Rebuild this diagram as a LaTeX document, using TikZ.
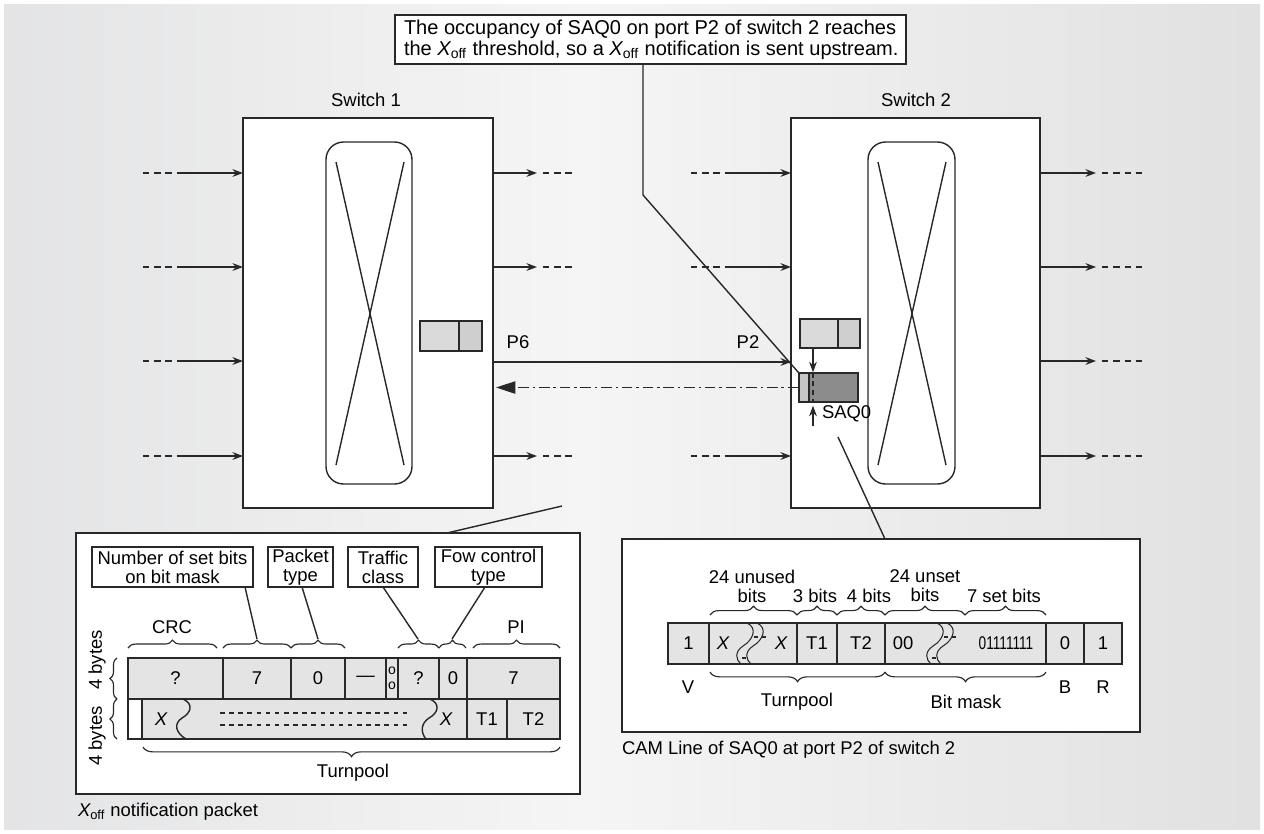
\documentclass[tikz,border=0pt]{standalone}
\usepackage{fontspec}
\setmainfont{Liberation Sans}
\usetikzlibrary{arrows.meta,decorations.pathreplacing,fit,calc}
\definecolor{cellgray}{RGB}{228,228,229}
\definecolor{qlight}{RGB}{218,218,219}
\definecolor{qright}{RGB}{207,207,208}
\definecolor{saqdark}{RGB}{140,140,140}
\definecolor{saqlight}{RGB}{198,198,199}
\definecolor{lnc}{RGB}{40,40,40}
\definecolor{bgl}{RGB}{208,209,212}
\definecolor{bgm}{RGB}{245,245,245}
\definecolor{bgr}{RGB}{206,206,208}
\pgfdeclarehorizontalshading{bgshade}{100bp}{color(0bp)=(bgl); color(48bp)=(bgm); color(100bp)=(bgr)}
\newcommand\cellbox[7]{\node[#1, fit={(#3,#4)(#5,#6)}] (#2) {};\node[lbl] (#2t) at (#2.center) {#7};}
\begin{document}
\begin{tikzpicture}[x=0.02cm,y=-0.02cm, line width=0.8pt, draw=lnc,
  font=\fontsize{10.5}{10.8}\selectfont,
  box/.style={draw=lnc, fill=white, inner sep=0pt, outer sep=0pt},
  cellst/.style={draw=lnc, fill=cellgray, inner sep=0pt, outer sep=0pt},
  wcell/.style={draw=lnc, fill=white, inner sep=0pt, outer sep=0pt},
  lbl/.style={inner sep=0pt, outer sep=0pt, align=center},
  arr/.style={-{Stealth[length=6pt,width=4.4pt]}},
  bigarr/.style={-{Triangle[length=11pt,width=7pt]}},
  dsh/.style={dash pattern=on 3.6pt off 2.8pt},
  brc/.style={decorate, decoration={brace, amplitude=#1}, line width=0.65pt},
]
% background
\fill[white] (0,0) rectangle (1264,833);
\shade[shading=bgshade] (4,4) rectangle (1260,829);
\useasboundingbox (0,0) rectangle (1264,833);

% ---------- note ----------
\node[box, fit={(395,15)(906,64)}] (note) {};
\node[lbl, anchor=west, align=left, font=\fontsize{11.4}{10.6}\selectfont] (notet) at (404,40)
  {The occupancy of SAQ0 on port P2 of switch 2 reaches\\
   the {\itshape X}\textsubscript{off} threshold, so a {\itshape X}\textsubscript{off} notification is sent upstream.};

% ---------- switches ----------
\node[box, fit={(243,118)(493,508)}] (sw1) {};
\node[box, fit={(791,118)(1040,508)}] (sw2) {};
\node[lbl] (sw1l) at (366,100) {Switch 1};
\node[lbl] (sw2l) at (916,100) {Switch 2};
\node[draw=lnc, rounded corners=10pt, fit={(326,142)(412,484)}, inner sep=0pt] (xb1) {};
\node[draw=lnc, rounded corners=10pt, fit={(868,142)(955,484)}, inner sep=0pt] (xb2) {};
\draw (336,162) -- (404,465);
\draw (404,162) -- (336,465);
\draw (878,162) -- (946,465);
\draw (946,162) -- (878,465);

% inputs/outputs
\foreach \y/\n in {173/a,267/b,361/c,456/d}{
  \coordinate (i1\n) at (183,\y);
  \draw[dsh] (143,\y) -- (i1\n);
  \draw[arr] (i1\n) -- (i1\n -| sw1.west);
  \coordinate (o2\n) at (1096,\y);
  \draw[arr] (o2\n -| sw2.east) -- (o2\n);
  \draw[dsh] (1102,\y) -- (1142,\y);
}
\foreach \y/\n in {173/a,267/b,456/d}{
  \coordinate (o1\n) at (537,\y);
  \draw[arr] (o1\n -| sw1.east) -- (o1\n);
  \draw[dsh] (543,\y) -- (574,\y);
  \coordinate (i2\n) at (731,\y);
  \draw[dsh] (691,\y) -- (i2\n);
  \draw[arr] (i2\n) -- (i2\n -| sw2.west);
}

% queues
\node[draw=lnc, fill=qlight, inner sep=0pt, fit={(420,321)(459,351)}] (q1a) {};
\node[draw=lnc, fill=qright, inner sep=0pt, fit={(459,321)(482,351)}] (q1b) {};
\node[draw=lnc, fill=qlight, inner sep=0pt, fit={(800,319)(838,348)}] (q2a) {};
\node[draw=lnc, fill=qright, inner sep=0pt, fit={(838,319)(860,348)}] (q2b) {};
\node[draw=lnc, fill=saqdark, inner sep=0pt, fit={(799,373)(858,402)}] (saq) {};
\node[draw=lnc, fill=saqlight, inner sep=0pt, fit={(799,373)(809,402)}] (saql) {};
\coordinate (dl) at (813,0);
\draw[dash pattern=on 3pt off 2pt] (saq.north -| dl) -- (saq.south -| dl);
\draw[arr] (q2a.south -| dl) -- (saq.north -| dl);
\coordinate (up0) at (813,426);
\draw[arr] (up0) -- ($(saq.south -| dl)+(0,3)$);
\node[lbl, anchor=west] (saqt) at (822,414) {SAQ0};

% ports
\node[lbl] (p6) at (518,342) {P6};
\node[lbl] (p2) at (748,342) {P2};
\coordinate (pl) at (0,362);
\draw[arr] (sw1.east |- pl) -- (sw2.west |- pl);
\draw[bigarr, dash pattern=on 6pt off 2.2pt on 1.4pt off 2.2pt] (saq.west) -- ($(sw1.east |- saq.west)+(3,0)$);

% note connector
\coordinate (nb) at (643,195);
\draw (note.south -| nb) -- (nb) -- (saq.north west);

% ---------- packet ----------
\node[box, fit={(76,533)(580,794)}] (pkt) {};
\coordinate (pk1) at (562,506);
\draw (pk1) -- (pkt.north -| 447,0);

\cellbox{box}{nsb}{92}{547}{253}{587}{Number of set bits\\on bit mask}
\cellbox{box}{ptb}{268}{547}{333}{587}{Packet\\type}
\cellbox{box}{tcb}{348}{547}{418}{587}{Traffic\\class}
\cellbox{box}{fcb}{435}{547}{542}{587}{Fow control\\type}

\draw[brc=4.5pt] (128,648) -- (217,648);
\draw[brc=4.5pt] (223,648) -- (291,648);
\draw[brc=4.5pt] (291,648) -- (345,648);
\draw[brc=4.5pt] (398,648) -- (439,648);
\draw[brc=4.5pt] (439,648) -- (466,648);
\draw[brc=4.5pt] (473,648) -- (560,648);
\coordinate (bt2) at (257,639);
\coordinate (bt3) at (318,639);
\coordinate (bt4) at (418,639);
\coordinate (bt5) at (452,639);
\draw (nsb.south -| 245,0) -- (bt2);
\draw (ptb.south -| 302,0) -- (bt3);
\draw (tcb.south -| 383,0) -- (bt4);
\draw (fcb.south -| 485,0) -- (bt5);
\node[lbl] (crc) at (172,627) {CRC};
\node[lbl] (pi) at (516,627) {PI};

\cellbox{cellst}{c1}{128}{658}{223}{699}{?}
\cellbox{cellst}{c2}{223}{658}{291}{699}{7}
\cellbox{cellst}{c3}{291}{658}{345}{699}{0}
\cellbox{cellst}{c4}{345}{658}{386}{699}{---}
\cellbox{cellst}{c5}{386}{658}{398}{699}{}
\cellbox{cellst}{c6}{398}{658}{439}{699}{?}
\cellbox{cellst}{c7}{439}{658}{467}{699}{0}
\cellbox{cellst}{c8}{467}{658}{560}{699}{7}
\node[lbl, font=\fontsize{8}{8}\selectfont] (c5a) at (392,671) {o};
\node[lbl, font=\fontsize{8}{8}\selectfont] (c5b) at (392,686) {o};
\cellbox{wcell}{d0}{128}{699}{142}{739}{}
\cellbox{cellst}{d1}{142}{699}{467}{739}{}
\cellbox{cellst}{d2}{467}{699}{507}{739}{T1}
\cellbox{cellst}{d3}{507}{699}{560}{739}{T2}
\node[lbl, font=\fontsize{10.5}{10}\itshape] (dx1) at (161,719) {X};
\node[lbl, font=\fontsize{10.5}{10}\itshape] (dx2) at (446,719) {X};
\draw (183,699) .. controls (194,704) and (191,713) .. (182,718) .. controls (173,724) and (176,733) .. (186,739);
\draw (430,699) .. controls (441,704) and (438,713) .. (429,718) .. controls (420,724) and (421,733) .. (426,739);
\draw[dash pattern=on 2.6pt off 2.6pt] (220,713) -- (407,713);
\draw[dash pattern=on 2.6pt off 2.6pt] (220,725) -- (407,725);

\draw[brc=4pt] (117,699) -- (117,658);
\draw[brc=4pt] (117,739) -- (117,699);
\node[lbl, rotate=90] (b4a) at (97,660) {4 bytes};
\node[lbl, rotate=90] (b4b) at (97,736) {4 bytes};
\draw[brc=5.5pt] (560,747) -- (143,747);
\node[lbl] (tp1) at (353,773) {Turnpool};
\node[lbl, anchor=west] (pktl) at (78,812) {{\itshape X}\textsubscript{off} notification packet};

% ---------- CAM ----------
\node[box, fit={(622,539)(1140,732)}] (cam) {};
\coordinate (cm1) at (838,437);
\draw (cm1) -- (cam.north -| 885,0);

\cellbox{cellst}{e1}{668}{623}{709}{664}{1}
\cellbox{cellst}{e2}{709}{623}{797}{664}{}
\cellbox{cellst}{e3}{797}{623}{837}{664}{T1}
\cellbox{cellst}{e4}{837}{623}{885}{664}{T2}
\cellbox{cellst}{e5}{885}{623}{1046}{664}{}
\cellbox{cellst}{e6}{1046}{623}{1084}{664}{0}
\cellbox{cellst}{e7}{1084}{623}{1122}{664}{1}
\node[lbl, font=\fontsize{10.5}{10}\itshape] (ex1) at (723,643) {X};
\node[lbl, font=\fontsize{10.5}{10}\itshape] (ex2) at (781,643) {X};
\node[lbl] (e00) at (903,643) {00};
\node[lbl] (e01) at (1006,643) {\scalebox{0.74}[1]{01111111}};
\foreach \dx in {0,190}{
  \begin{scope}[xshift=\dx*0.02cm]
  \draw[line width=0.6pt] (747,623) .. controls (758,628) and (753,640) .. (743,646) .. controls (734,652) and (736,660) .. (741,664);
  \draw[line width=0.6pt] (757,623) .. controls (768,628) and (763,640) .. (753,646) .. controls (744,652) and (746,660) .. (751,664);
  \draw[line width=0.6pt] (754,637) -- (758,637);
  \draw[line width=0.6pt] (762,637) -- (766,637);
  \draw[line width=0.6pt] (742,658) -- (746,658);
  \end{scope}
}
\draw[brc=5pt] (710,615) -- (797,615);
\draw[brc=5pt] (797,615) -- (837,615);
\draw[brc=5pt] (837,615) -- (885,615);
\draw[brc=5pt] (885,615) -- (965,615);
\draw[brc=5pt] (965,615) -- (1046,615);
\node[lbl] (u24) at (752,586) {24 unused\\bits};
\node[lbl] (b3) at (815,596) {3 bits};
\node[lbl] (b4) at (869,596) {4 bits};
\node[lbl] (s24) at (925,586) {24 unset\\bits};
\node[lbl] (s7) at (1004,596) {7 set bits};
\draw[brc=5.5pt] (885,672) -- (710,672);
\draw[brc=5.5pt] (1046,672) -- (885,672);
\node[lbl] (vv) at (688,687) {V};
\node[lbl] (tp2) at (797,702) {Turnpool};
\node[lbl] (bm) at (966,702) {Bit mask};
\node[lbl] (bb) at (1065,687) {B};
\node[lbl] (rr) at (1103,687) {R};
\node[lbl, anchor=west] (caml) at (622,750) {CAM Line of SAQ0 at port P2 of switch 2};
\end{tikzpicture}
\end{document}
